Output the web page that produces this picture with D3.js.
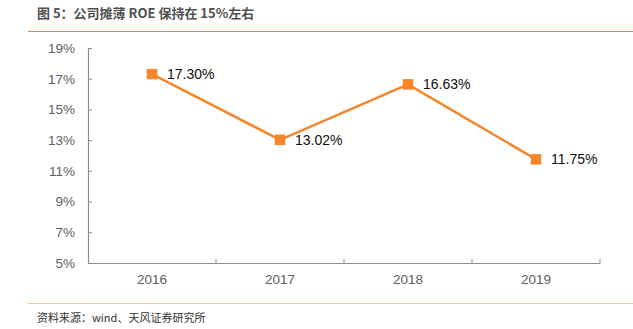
<!DOCTYPE html>
<html>
<head>
<meta charset="utf-8">
<script src="https://cdn.jsdelivr.net/npm/d3@7"></script>
<style>
  html, body { margin: 0; padding: 0; background: #fff; }
  svg { display: block; }
</style>
</head>
<body>
<svg id="chart" width="633" height="329"></svg>
<script>
// Diluted ROE by year
const years = ["2016", "2017", "2018", "2019"];
const roe = [17.30, 13.02, 16.63, 11.75];
const yTicks = [5, 7, 9, 11, 13, 15, 17, 19];

const title = "图 5：公司摊薄 ROE 保持在 15%左右";
const source = "资料来源：wind、天风证券研究所";

const W = 633, H = 329;
const margin = { left: 88, right: 33, top: 48, bottom: 66 };
const svg = d3.select("#chart");
const font = "'Noto Sans CJK SC', 'Liberation Sans', sans-serif";
const numFont = "'Liberation Sans', Arial, sans-serif";
const orange = "#F7862A";
const axisGray = "#8c8c8c";

// Title and rule
svg.append("text")
  .attr("x", 37).attr("y", 18)
  .attr("font-family", font).attr("font-size", 13).attr("font-weight", "bold")
  .attr("fill", "#505050")
  .text(title);
svg.append("line")
  .attr("x1", 28).attr("x2", W).attr("y1", 31.5).attr("y2", 31.5)
  .attr("stroke", orange).attr("stroke-width", 1);

// Source rule and text
svg.append("line")
  .attr("x1", 28).attr("x2", W).attr("y1", 303.5).attr("y2", 303.5)
  .attr("stroke", "#f9c08f").attr("stroke-width", 1.2);
svg.append("text")
  .attr("x", 37).attr("y", 322)
  .attr("font-family", font).attr("font-size", 11)
  .attr("fill", "#333")
  .text(source);

const x = d3.scaleBand().domain(years)
  .range([margin.left, W - margin.right]).padding(0);
const y = d3.scaleLinear().domain([5, 19])
  .range([H - margin.bottom, margin.top]);

// Y axis with inward ticks
const yAxis = svg.append("g")
  .attr("transform", `translate(${margin.left},0)`)
  .call(d3.axisLeft(y).tickValues(yTicks).tickFormat(d => d + "%")
    .tickSizeInner(-4).tickSizeOuter(0).tickPadding(13));
yAxis.select(".domain").attr("stroke", axisGray).attr("stroke-width", 1.2);
yAxis.selectAll(".tick line").attr("stroke", axisGray);
yAxis.selectAll("text")
  .attr("font-family", numFont)
  .attr("font-size", 13.5).attr("fill", "#606060");

// X axis: labels centred in bands, ticks on band boundaries
const xAxis = svg.append("g")
  .attr("transform", `translate(0,${H - margin.bottom})`)
  .call(d3.axisBottom(x).tickSize(0).tickPadding(11));
xAxis.select(".domain").attr("stroke", axisGray).attr("stroke-width", 1.2);
xAxis.selectAll("text")
  .attr("font-family", numFont)
  .attr("font-size", 13.5).attr("fill", "#606060");
const bounds = years.slice(1).map(d => x(d)).concat([x(years[years.length - 1]) + x.bandwidth()]);
xAxis.selectAll(".bound").data(bounds).enter().append("line")
  .attr("class", "bound")
  .attr("x1", d => d).attr("x2", d => d)
  .attr("y1", 0).attr("y2", -4)
  .attr("stroke", axisGray);

const cx = (d, i) => x(years[i]) + x.bandwidth() / 2;

// Series line
const line = d3.line().x((d, i) => cx(d, i)).y(d => y(d));
svg.append("path")
  .datum(roe)
  .attr("d", line)
  .attr("fill", "none")
  .attr("stroke", orange)
  .attr("stroke-width", 2.5);

// Square markers
const ms = 10.5;
svg.selectAll(".mk").data(roe).enter().append("rect")
  .attr("class", "mk")
  .attr("x", (d, i) => cx(d, i) - ms / 2)
  .attr("y", d => y(d) - ms / 2)
  .attr("width", ms).attr("height", ms)
  .attr("fill", orange);

// Value labels
svg.selectAll(".lbl").data(roe).enter().append("text")
  .attr("class", "lbl")
  .attr("x", (d, i) => cx(d, i) + 15)
  .attr("y", d => y(d) + 5)
  .attr("font-family", numFont)
  .attr("font-size", 14).attr("fill", "#111")
  .text(d => d.toFixed(2) + "%");
</script>
</body>
</html>
